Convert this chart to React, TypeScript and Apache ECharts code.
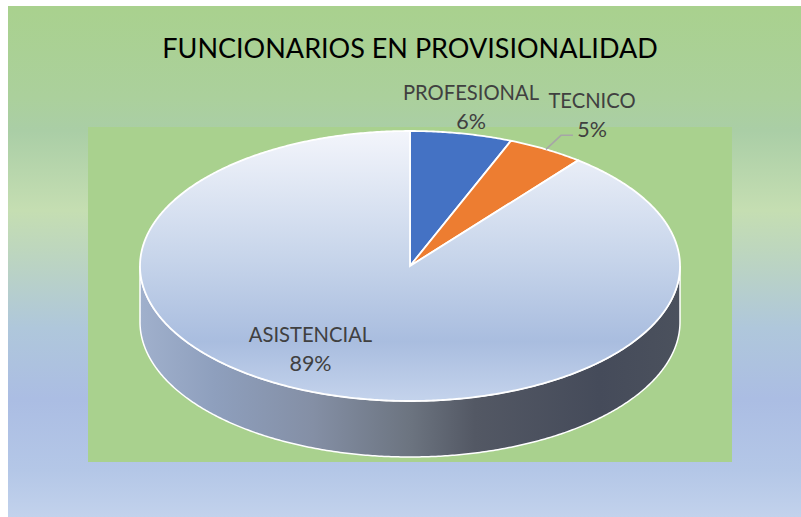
import React, { useEffect, useRef } from "react";
import * as echarts from "echarts";

const titleText = "FUNCIONARIOS EN PROVISIONALIDAD";
const categories = ["PROFESIONAL", "TECNICO", "ASISTENCIAL"];
const shares = [6.1, 4.6, 89.3];
const sliceColors = ["#4472C4", "#ED7D31", "#A5A5A5"];

const CX = 410, CY = 266, RX = 270, RY = 135, DEPTH = 56;
const labelPos = [[471, 106], [592, 114], [310.5, 348.5]];
const FONT = "Lato, 'Open Sans', sans-serif";

const point = (deg: number, dy = 0): number[] => {
  const t = (deg * Math.PI) / 180;
  return [CX + RX * Math.sin(t), CY - RY * Math.cos(t) + dy];
};

const arc = (from: number, to: number, dy = 0): number[][] => {
  const pts: number[][] = [];
  const n = Math.max(2, Math.ceil(Math.abs(to - from) * 2));
  for (let i = 0; i <= n; i++) pts.push(point(from + ((to - from) * i) / n, dy));
  return pts;
};

const topGradient = new echarts.graphic.LinearGradient(
  0, CY - RY, 0, CY + RY,
  [
    { offset: 0, color: "#F3F5FB" },
    { offset: 0.48, color: "#C6D4EA" },
    { offset: 0.78, color: "#A9BDDF" },
    { offset: 1, color: "#C4D3EC" },
  ],
  true
);

const sideGradient = new echarts.graphic.LinearGradient(
  CX - RX, 0, CX + RX, 0,
  [
    { offset: 0, color: "#A0B0CC" },
    { offset: 0.14, color: "#8E9FBD" },
    { offset: 0.32, color: "#848FA5" },
    { offset: 0.5, color: "#6C7480" },
    { offset: 0.62, color: "#535864" },
    { offset: 0.85, color: "#454B5A" },
    { offset: 1, color: "#4B515D" },
  ],
  true
);

const backgroundGradient = new echarts.graphic.LinearGradient(
  0, 0, 0, 1,
  [
    { offset: 0, color: "#A9D18E" },
    { offset: 0.18, color: "#ABD09C" },
    { offset: 0.245, color: "#AACEA6" },
    { offset: 0.4, color: "#C5DEB2" },
    { offset: 0.48, color: "#BDD6BE" },
    { offset: 0.63, color: "#AFC7DB" },
    { offset: 0.77, color: "#ABBDE3" },
    { offset: 0.91, color: "#B4C7E7" },
    { offset: 1, color: "#C2D2EC" },
  ]
);

const renderItem = (params: any, api: any) => {
  const i = params.dataIndex;
  const value = api.value(0);
  const total = shares.reduce((a, b) => a + b, 0);
  const before = shares.slice(0, i).reduce((a, b) => a + b, 0);
  const from = (before / total) * 360;
  const to = ((before + value) / total) * 360;
  const children: any[] = [];
  const isLast = i === categories.length - 1;

  if (isLast) {
    children.push({
      type: "polygon",
      shape: { points: [...arc(90, 270, 0), ...arc(270, 90, DEPTH)] },
      style: { fill: sideGradient, stroke: "#FFFFFF", lineWidth: 1.5 },
    });
  }

  children.push({
    type: "polygon",
    shape: { points: [[CX, CY], ...arc(from, to)] },
    style: {
      fill: isLast ? topGradient : sliceColors[i],
      stroke: "#FFFFFF",
      lineWidth: 1.8,
    },
  });

  if (i === 1) {
    const start = point((from + to) / 2);
    children.push({
      type: "polyline",
      shape: { points: [start, [start[0] + 15, start[1] - 14], [start[0] + 27, start[1] - 14]] },
      style: { fill: "none", stroke: "#A6A6A6", lineWidth: 1.5 },
    });
  }

  children.push({
    type: "text",
    x: labelPos[i][0],
    y: labelPos[i][1],
    style: {
      text: `{n|${categories[i]}}\n{p|${Math.round((value / total) * 100)}%}`,
      rich: {
        n: { fontFamily: "Lato", fontSize: 20.2, lineHeight: 29, fill: "#404040", color: "#404040" },
        p: { fontFamily: "Lato", fontSize: 21.5, lineHeight: 29, fill: "#404040", color: "#404040" },
      },
      fill: "#404040",
      align: "center",
      verticalAlign: "middle",
    },
  });

  return { type: "group", children };
};

export default function App() {
  const ref = useRef<HTMLDivElement>(null);

  useEffect(() => {
    document.body.style.margin = "0";
    const chart = echarts.init(ref.current!, undefined, { renderer: "svg" });
    chart.setOption({
      animation: false,
      backgroundColor: "#FFFFFF",
      title: {
        text: titleText,
        left: 405,
        top: 29,
        textAlign: "center",
        textStyle: { color: "#000000", fontSize: 27, fontWeight: "normal", fontFamily: FONT },
      },
      graphic: [
        {
          type: "rect", z: -2, silent: true,
          shape: { x: 8, y: 6, width: 793, height: 511 },
          style: { fill: backgroundGradient },
        },
        {
          type: "rect", z: -1, silent: true,
          shape: { x: 88, y: 127, width: 644, height: 335 },
          style: { fill: "#A9D18E" },
        },
      ],
      series: [
        {
          type: "custom",
          coordinateSystem: "none",
          clip: false,
          renderItem,
          data: shares.map((v, i) => ({ name: categories[i], value: [v] })),
        },
      ],
    });
    return () => chart.dispose();
  }, []);

  return (
    <div
      ref={ref}
      style={{ position: "absolute", left: 0, top: 0, width: 801, height: 517 }}
    />
  );
}
